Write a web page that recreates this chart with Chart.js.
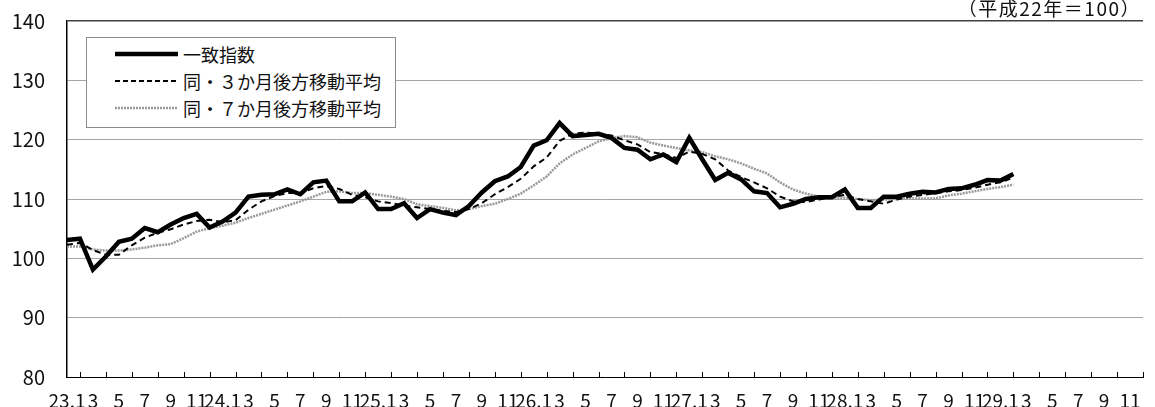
<!DOCTYPE html>
<html lang="ja">
<head>
<meta charset="utf-8">
<title>一致指数の推移</title>
<script src="https://cdn.jsdelivr.net/npm/chart.js@4"></script>
<style>
    body {
        margin: 0;
        background: #fff;
        font-family: "Noto Sans CJK JP", sans-serif;
        color: #111;
    }

    #wrap {
        position: relative;
        width: 1155px;
        height: 407px;
        overflow: hidden;
    }

    #unit {
        position: absolute;
        top: -2px;
        right: 14px;
        font-size: 19px;
        line-height: 20px;
        letter-spacing: 1.5px;
    }

    /* legend box sits inside the plot, top left */
    #legend {
        position: absolute;
        left: 86px;
        top: 37px;
        width: 310px;
        height: 91px;
        box-sizing: border-box;
        border: 1px solid #8c8c8c;
        background: #fff;
    }

    .item {
        position: absolute;
        left: 28px;
        height: 20px;
        display: flex;
        align-items: center;
        font-size: 18px;
        white-space: nowrap;
    }

    .item svg {
        margin-right: 5px;
    }
</style>
</head>
<body>
<div id="wrap">
    <canvas id="chart"></canvas>
    <div id="unit">（平成22年＝100）</div>
    <div id="legend">
        <div class="item" style="top:6px">
            <svg width="63" height="8"><line x1="0" y1="4" x2="63" y2="4" stroke="#000" stroke-width="4.5"/></svg>一致指数
        </div>
        <div class="item" style="top:33px">
            <svg width="63" height="8"><line x1="0" y1="4" x2="63" y2="4" stroke="#000" stroke-width="2" stroke-dasharray="5 3"/></svg>同・３か月後方移動平均
        </div>
        <div class="item" style="top:60px">
            <svg width="63" height="8"><line x1="0" y1="4" x2="63" y2="4" stroke="#999" stroke-width="2.5" stroke-dasharray="2 1"/></svg>同・７か月後方移動平均
        </div>
    </div>
</div>

<script>
    // 平成23年1月 〜 平成29年12月 (the data stop at 29.2)
    const years = ['23', '24', '25', '26', '27', '28', '29'];
    const monthsPerYear = 12;

    const labels = [];
    years.forEach(y => {
        for (let m = 1; m <= monthsPerYear; m++) {
            labels.push(m === 1 ? y + '.1' : String(m));
        }
    });

    // 一致指数
    const coincident = [
        103.1, 103.3, 98.1, 100.3, 102.8, 103.3, 105.1, 104.4, 105.7, 106.8, 107.5, 105.2,
        106.2, 107.7, 110.4, 110.7, 110.8, 111.6, 110.8, 112.8, 113.1, 109.6, 109.6, 111.1,
        108.3, 108.3, 109.3, 106.8, 108.3, 107.7, 107.3, 108.8, 111.1, 113.0, 113.8, 115.4,
        119.0, 119.9, 122.8, 120.6, 120.8, 121.0, 120.3, 118.6, 118.3, 116.7, 117.5, 116.2,
        120.3, 116.7, 113.2, 114.4, 113.3, 111.3, 111.0, 108.6, 109.2, 110.0, 110.3, 110.3,
        111.6, 108.5, 108.5, 110.4, 110.4, 110.9, 111.2, 111.1, 111.7, 111.8, 112.4, 113.2,
        113.1, 114.2
    ];

    // 同・3か月後方移動平均
    const ma3 = [
        102.3, 102.6, 101.4, 100.6, 100.6, 102.2, 103.5, 104.3, 104.9, 105.7, 106.3, 106.5,
        106.1, 106.4, 108.2, 109.6, 110.5, 111.0, 111.0, 111.8, 112.2, 111.7, 110.7, 110.3,
        109.6, 109.3, 108.9, 108.6, 108.3, 108.0, 107.8, 108.3, 109.3, 110.8, 112.0, 113.4,
        115.5, 117.0, 119.8, 121.0, 121.2, 121.0, 120.7, 119.9, 119.2, 117.9, 117.6, 116.9,
        118.0, 117.6, 116.7, 114.8, 113.7, 112.8, 111.8, 110.4, 109.6, 109.5, 109.9, 110.3,
        110.7, 110.0, 109.6, 109.2, 109.9, 110.4, 110.7, 111.0, 111.3, 111.5, 111.9, 112.4,
        112.8, 113.6
    ];

    // 同・7か月後方移動平均
    const ma7 = [
        102.0, 102.0, 101.5, 101.3, 101.3, 101.5, 101.8, 102.2, 102.4, 103.4, 104.5, 105.1,
        105.5, 106.0, 106.8, 107.5, 108.2, 108.9, 109.6, 110.4, 111.2, 111.3, 111.0, 111.0,
        110.7, 110.4, 110.0, 109.1, 108.8, 108.5, 108.1, 108.3, 108.8, 109.2, 110.0, 110.9,
        112.3, 113.8, 116.0, 117.5, 118.6, 119.7, 120.3, 120.6, 120.4, 119.5, 119.0, 118.6,
        118.2, 117.9, 117.2, 116.7, 116.0, 115.1, 114.3, 112.8, 111.6, 110.9, 110.4, 110.2,
        110.2, 110.0, 109.8, 109.9, 110.0, 110.1, 110.1, 110.1, 110.6, 110.9, 111.3, 111.7,
        112.0, 112.4
    ];

    const yMin = 80, yMax = 140, yStep = 10;

    // small tick marks pointing up from the bottom axis, between the labels
    const innerTicks = {
        id: 'innerTicks',
        afterDraw(chart) {
            const {ctx, chartArea, scales: {x}} = chart;
            ctx.save();
            ctx.strokeStyle = '#000';
            ctx.lineWidth = 1;
            for (let i = 1; i < labels.length; i += 2) {
                const px = Math.round(x.getPixelForValue(i)) + 0.5;
                ctx.beginPath();
                ctx.moveTo(px, chartArea.bottom);
                ctx.lineTo(px, chartArea.bottom - 5);
                ctx.stroke();
            }
            ctx.restore();
        }
    };

    new Chart(document.getElementById('chart'), {
        type: 'line',
        data: {
            labels: labels,
            datasets: [
                {
                    label: '一致指数',
                    data: coincident,
                    borderColor: '#000',
                    borderWidth: 4.5,
                    pointRadius: 0,
                    tension: 0
                },
                {
                    label: '同・３か月後方移動平均',
                    data: ma3,
                    borderColor: '#000',
                    borderWidth: 2,
                    borderDash: [6, 4],
                    pointRadius: 0,
                    tension: 0
                },
                {
                    label: '同・７か月後方移動平均',
                    data: ma7,
                    borderColor: '#999',
                    borderWidth: 2.5,
                    borderDash: [2, 1],
                    pointRadius: 0,
                    tension: 0
                }
            ]
        },
        options: {
            responsive: true,
            maintainAspectRatio: false,
            devicePixelRatio: 1,
            animation: false,
            layout: {padding: {top: 21, left: 0, right: 0, bottom: 0}},
            plugins: {
                legend: {display: false},
                tooltip: {enabled: false}
            },
            scales: {
                x: {
                    type: 'category',
                    offset: false,
                    grid: {display: false, drawTicks: false},
                    border: {display: true, color: '#000', width: 1},
                    ticks: {
                        autoSkip: false,
                        maxRotation: 0,
                        padding: 12,
                        color: '#111',
                        font: {family: '"Noto Sans CJK JP", sans-serif', size: 19},
                        callback: (value, index) => index % 2 ? '' : labels[index]
                    },
                    afterFit: scale => { scale.height = 30; }
                },
                y: {
                    min: yMin,
                    max: yMax,
                    ticks: {
                        stepSize: yStep,
                        padding: 22,
                        color: '#111',
                        font: {family: '"Noto Sans CJK JP", sans-serif', size: 20}
                    },
                    grid: {
                        drawTicks: false,
                        color: ctx => ctx.tick && ctx.tick.value === yMax ? '#404040' : '#a6a6a6',
                        lineWidth: ctx => ctx.tick && ctx.tick.value === yMax ? 1.5 : 1
                    },
                    border: {display: true, color: '#000', width: 1.5},
                    afterFit: scale => {
                        scale.width = 67;
                        // the tick padding would otherwise also be added above and below the axis
                        scale.paddingTop = 0;
                        scale.paddingBottom = 0;
                    }
                }
            }
        },
        plugins: [innerTicks]
    });
</script>
</body>
</html>
